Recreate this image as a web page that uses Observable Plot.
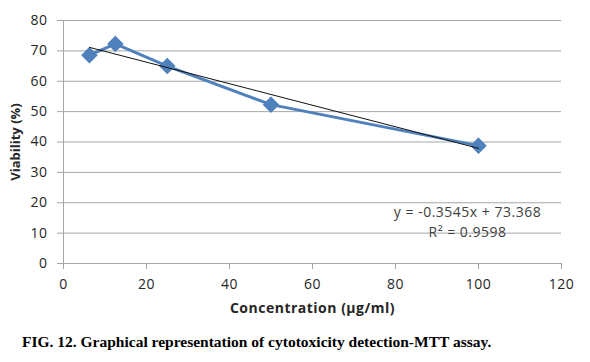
<!DOCTYPE html>
<html>
<head>
<meta charset="utf-8">
<script src="https://cdn.jsdelivr.net/npm/d3@7"></script>
<script src="https://cdn.jsdelivr.net/npm/@observablehq/plot@0.6"></script>
<style>
  html, body { margin: 0; padding: 0; background: #fff; }
  #chart svg { display: block; }
  #chart svg text { letter-spacing: 0.5px; }
  #chart svg text.vert { letter-spacing: 0; }
  #caption {
    font-family: "Liberation Serif", "Times New Roman", serif;
    font-weight: bold;
    font-size: 15.5px;
    line-height: 34px;
    padding-left: 22px;
    color: #000;
    white-space: nowrap;
  }
</style>
</head>
<body>
<div id="chart"></div>
<div id="caption"></div>
<script>
// Data
const concentrations = [6.25, 12.5, 25, 50, 100];
const viability = [68.6, 72.3, 65.0, 52.3, 38.8];
const xTicks = [0, 20, 40, 60, 80, 100, 120];
const yTicks = [0, 10, 20, 30, 40, 50, 60, 70, 80];
const slope = -0.3545;
const intercept = 73.368;
const r2 = 0.9598;
const xLabel = "Concentration (µg/ml)";
const yLabel = "Viability (%)";
const captionText = "FIG. 12. Graphical representation of cytotoxicity detection-MTT assay.";

const points = concentrations.map((c, i) => ({c, v: viability[i]}));
const xMin = d3.min(concentrations), xMax = d3.max(concentrations);
const trend = [xMin, xMax].map(c => ({c, v: slope * c + intercept}));
const eqText = `y = ${slope}x + ${intercept}\nR² = ${r2}`;

const grid = "#a6a6a6";
const textColor = "#262626";

const chart = Plot.plot({
  width: 590,
  height: 325,
  marginLeft: 63,
  marginRight: 29,
  marginTop: 20,
  marginBottom: 62,
  style: {fontFamily: "'Open Sans', sans-serif", fontSize: "14px", color: textColor, background: "#fff"},
  x: {domain: [0, 120]},
  y: {domain: [0, 80]},
  marks: [
    Plot.ruleY(yTicks.filter(d => d > 0), {stroke: grid, strokeWidth: 1}),
    Plot.ruleY([0], {stroke: grid, strokeWidth: 1}),
    Plot.ruleX([0], {stroke: grid, strokeWidth: 1}),
    Plot.axisY({ticks: yTicks, tickSize: 6, tickPadding: 10, stroke: grid, fill: textColor, label: null, fontSize: 14}),
    Plot.axisX({ticks: xTicks, tickSize: 6, tickPadding: 10, stroke: grid, fill: textColor, label: null, fontSize: 14}),
    Plot.line(points, {x: "c", y: "v", stroke: "#4F81BD", strokeWidth: 3, strokeLinejoin: "round"}),
    Plot.dot(points, {x: "c", y: "v", symbol: "diamond2", r: 6.5, fill: "#4F81BD", stroke: "#4F81BD"}),
    Plot.line(trend, {x: "c", y: "v", stroke: "#111", strokeWidth: 1}),
    Plot.text([eqText], {frameAnchor: "bottom-right", textAnchor: "middle", lineAnchor: "middle", lineHeight: 1.4, dx: -94, dy: -43, fill: "#404040", fontSize: 14}),
    Plot.text([xLabel], {frameAnchor: "bottom", lineAnchor: "middle", dy: 45, fontWeight: "bold", fill: textColor, fontSize: 14}),
    Plot.text([yLabel], {frameAnchor: "left", rotate: -90, textAnchor: "middle", lineAnchor: "middle", dx: -48, fontWeight: "bold", fill: textColor, fontSize: 13})
  ]
});
d3.select(chart).selectAll("text").filter(function() {
  return (this.getAttribute("transform") || "").includes("rotate");
}).classed("vert", true);
document.getElementById("chart").append(chart);
document.getElementById("caption").textContent = captionText;
</script>
</body>
</html>
